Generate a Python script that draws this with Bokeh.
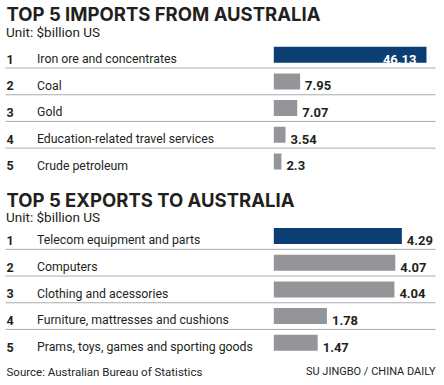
from bokeh.plotting import figure
from bokeh.models import Range1d, ColumnDataSource
from bokeh.core.properties import value
from bokeh.embed import file_html
from bokeh.resources import INLINE

# ---- data ----
ranks = ["1", "2", "3", "4", "5"]
import_labels = ["Iron ore and concentrates", "Coal", "Gold",
                 "Education-related travel services", "Crude petroleum"]
import_values = [46.13, 7.95, 7.07, 3.54, 2.3]
import_value_labels = ["46.13", "7.95", "7.07", "3.54", "2.3"]
export_labels = ["Telecom equipment and parts", "Computers", "Clothing and acessories",
                 "Furniture, mattresses and cushions", "Prams, toys, games and sporting goods"]
export_values = [4.29, 4.07, 4.04, 1.78, 1.47]
export_value_labels = ["4.29", "4.07", "4.04", "1.78", "1.47"]

title_imports = "TOP 5 IMPORTS FROM AUSTRALIA"
title_exports = "TOP 5 EXPORTS TO AUSTRALIA"
unit_text = "Unit: $billion US"
source_text = "Source:  Australian Bureau of Statistics"
credit_text = "SU JINGBO / CHINA DAILY"

# ---- styles / layout ----
NAVY = "#0b3f73"
GRAY = "#939598"
INK = "#231f20"
RULE = "#a9abae"
FONT = "Roboto"
TITLE_FONT = "Inter"

W, H = 444, 381
X0, X1 = 0.0, 444.0
Y0 = 4.5
Y1 = Y0 + H
BAR_ZERO = 273.3
RULE_START, RULE_END = 5, 435
PITCH = 26.7
BAR_H = 16

imp_first = 58.7
exp_first = 240.0
imp_scale = 3.31     # px per unit
exp_scale = 29.85

p = figure(width=W, height=H, x_range=Range1d(X0, X1), y_range=Range1d(Y1, Y0),
           output_backend="svg", toolbar_location=None, min_border=0,
           background_fill_color="white", border_fill_color="white")
p.axis.visible = False
p.grid.visible = False
p.outline_line_color = None

p.extra_x_ranges = {
    "imp": Range1d((X0 - BAR_ZERO) / imp_scale, (X1 - BAR_ZERO) / imp_scale),
    "exp": Range1d((X0 - BAR_ZERO) / exp_scale, (X1 - BAR_ZERO) / exp_scale),
}


def section(first, labels, vals, rng, title, title_base, unit_base):
    ys = [first + i * PITCH for i in range(len(vals))]
    colors = [NAVY if i == 0 else GRAY for i in range(len(vals))]
    p.text(x=[6], y=[title_base], text=[title], text_font=value(TITLE_FONT),
           text_font_style="bold", text_font_size="18.5px", text_color=INK,
           text_baseline="alphabetic")
    p.text(x=[5.5], y=[unit_base], text=[unit_text], text_font=value(FONT),
           text_font_size="13.5px", text_color=INK, text_baseline="alphabetic")
    for i in range(len(vals) - 1):
        yy = ys[i] + PITCH / 2
        p.line(x=[RULE_START, RULE_END], y=[yy, yy], line_color=RULE, line_width=1)
    src = ColumnDataSource(dict(y=ys, v=vals, c=colors, lab=labels,
                                r=ranks[:len(vals)],
                                base=[yy + 4.3 for yy in ys]))
    p.hbar(y="y", left=0, right="v", height=BAR_H, fill_color="c",
           line_color=None, source=src, x_range_name=rng)
    p.text(x=6, y="base", text="r", source=src, text_font=value(FONT),
           text_font_style="bold", text_font_size="12.5px", text_color=INK,
           text_baseline="alphabetic")
    p.text(x=36.5, y="base", text="lab", source=src, text_font=value(FONT),
           text_font_size="12.3px", text_color=INK, text_baseline="alphabetic")
    return ys


ys_i = section(imp_first, import_labels, import_values,
               "imp", title_imports, 18.2, 36)
ys_e = section(exp_first, export_labels, export_values,
               "exp", title_exports, 204.3, 220.7)

bi = [yy + 4.3 for yy in ys_i]
p.text(x=[import_values[0]], y=[bi[0]], text=[import_value_labels[0]],
       x_range_name="imp", x_offset=-10, text_align="right",
       text_font=value(FONT), text_font_style="bold", text_font_size="13px",
       text_color="white", text_baseline="alphabetic")
p.text(x=import_values[1:], y=bi[1:], text=import_value_labels[1:],
       x_range_name="imp", x_offset=5, text_align="left",
       text_font=value(FONT), text_font_style="bold", text_font_size="13px",
       text_color=INK, text_baseline="alphabetic")
be = [yy + 4.3 for yy in ys_e]
p.text(x=export_values, y=be, text=export_value_labels,
       x_range_name="exp", x_offset=5, text_align="left",
       text_font=value(FONT), text_font_style="bold", text_font_size="13px",
       text_color=INK, text_baseline="alphabetic")

p.text(x=[6], y=[375.7], text=[source_text], text_font=value(FONT),
       text_font_size="11.5px", text_color=INK, text_baseline="alphabetic")
p.text(x=[RULE_END], y=[375.7], text=[credit_text], text_font=value(FONT),
       text_font_size="11px", text_color=INK, text_baseline="alphabetic",
       text_align="right")

open("out.html", "w").write(file_html(p, INLINE))
